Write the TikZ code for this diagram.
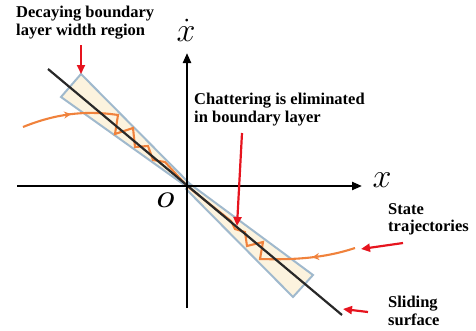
\RequirePackage{fix-cm}
\documentclass[tikz,border=0pt]{standalone}
\usepackage{amsmath}
\usepackage{fontspec}
\setmainfont{Liberation Serif}
\usetikzlibrary{arrows.meta,decorations.markings}
\definecolor{cream}{RGB}{252,243,222}
\definecolor{bluegray}{RGB}{160,185,205}
\definecolor{traj}{RGB}{240,130,60}
\definecolor{redarrow}{RGB}{230,20,30}
\definecolor{surf}{RGB}{40,40,40}
\tikzset{
  axis/.style={line width=2.2pt,-{Triangle[length=10pt,width=8pt]}},
  layer/.style={fill=cream,draw=bluegray,line width=2pt,line join=miter},
  slide/.style={surf,line width=2.2pt},
  trajline/.style={traj,line width=2.1pt,line join=miter},
  redarr/.style={redarrow,line width=2.2pt,-{Triangle[length=9pt,width=8pt]}},
  lbl/.style={font=\fontsize{16.5}{17.5}\selectfont\bfseries,align=left,inner sep=0pt,anchor=north west},
  mathlbl/.style={font=\fontsize{20}{20}\selectfont,inner sep=0pt,scale=1.7},
  midarrow/.style={postaction={decorate},decoration={markings,mark=at position #1 with {\arrow{Stealth[length=7pt,width=7pt]}}}}
}
\begin{document}
\begin{tikzpicture}[x=1pt,y=-1pt]
\useasboundingbox (0,0) rectangle (476,330);
% key coordinates
\coordinate (O) at (187,186);
\coordinate (xl) at (17,186);
\coordinate (xr) at (362,186);
\coordinate (yb) at (187,308);
\coordinate (yt) at (187,53);
% boundary layers
\draw[layer] (81,74) -- (61,97) -- (183,184) -- (192,186) -- cycle;
\draw[layer] (313,275) -- (293,297) -- (186,189) -- (190,184) -- cycle;
% trajectories
\draw[trajline,midarrow=0.22] (23,127) .. controls (55,114) and (85,110) .. (118,115)
  -- (115,134) -- (133,128) -- (135,147) -- (148,146) -- (153,160) -- (165,162) -- (O);
\draw[trajline,midarrow=0.2] (355,248) .. controls (325,258) and (295,260) .. (260,259)
  -- (263,242) -- (247,246) -- (245,232) -- (235,229) -- (231,221) -- (O);
% sliding surface
\coordinate (s1) at (48,69);
\coordinate (s2) at (342,315);
\draw[slide] (s1) -- (s2);
% axes
\draw[axis] (xl) -- (xr);
\draw[axis] (yb) -- (yt);
% labels
\node[mathlbl] (xdot) at (186,30) {$\dot{x}$};
\node[mathlbl] (xlab) at (382,180) {$x$};
\node[inner sep=0pt,font=\fontsize{20}{20}\selectfont,scale=1.05] (olab) at (166,200) {$\boldsymbol{O}$};
\node[lbl] (t1) at (16,6) {Decaying boundary\\layer width region};
\node[lbl] (t2) at (194,93) {Chattering is eliminated\\in boundary layer};
\node[lbl] (t3) at (388,203) {State\\trajectories};
\node[lbl] (t4) at (388,296) {Sliding\\surface};
% red arrows
\coordinate (a1s) at (81,45);
\coordinate (a1e) at (81,74);
\coordinate (a2s) at (242,133);
\coordinate (a2e) at (237,226);
\coordinate (a3s) at (403,243);
\coordinate (a3e) at (361,249);
\coordinate (a4s) at (368,312);
\coordinate (a4e) at (343,309);
\draw[redarr] (a1s) -- (a1e);
\draw[redarr] (a2s) -- (a2e);
\draw[redarr] (a3s) -- (a3e);
\draw[redarr] (a4s) -- (a4e);
\end{tikzpicture}
\end{document}
